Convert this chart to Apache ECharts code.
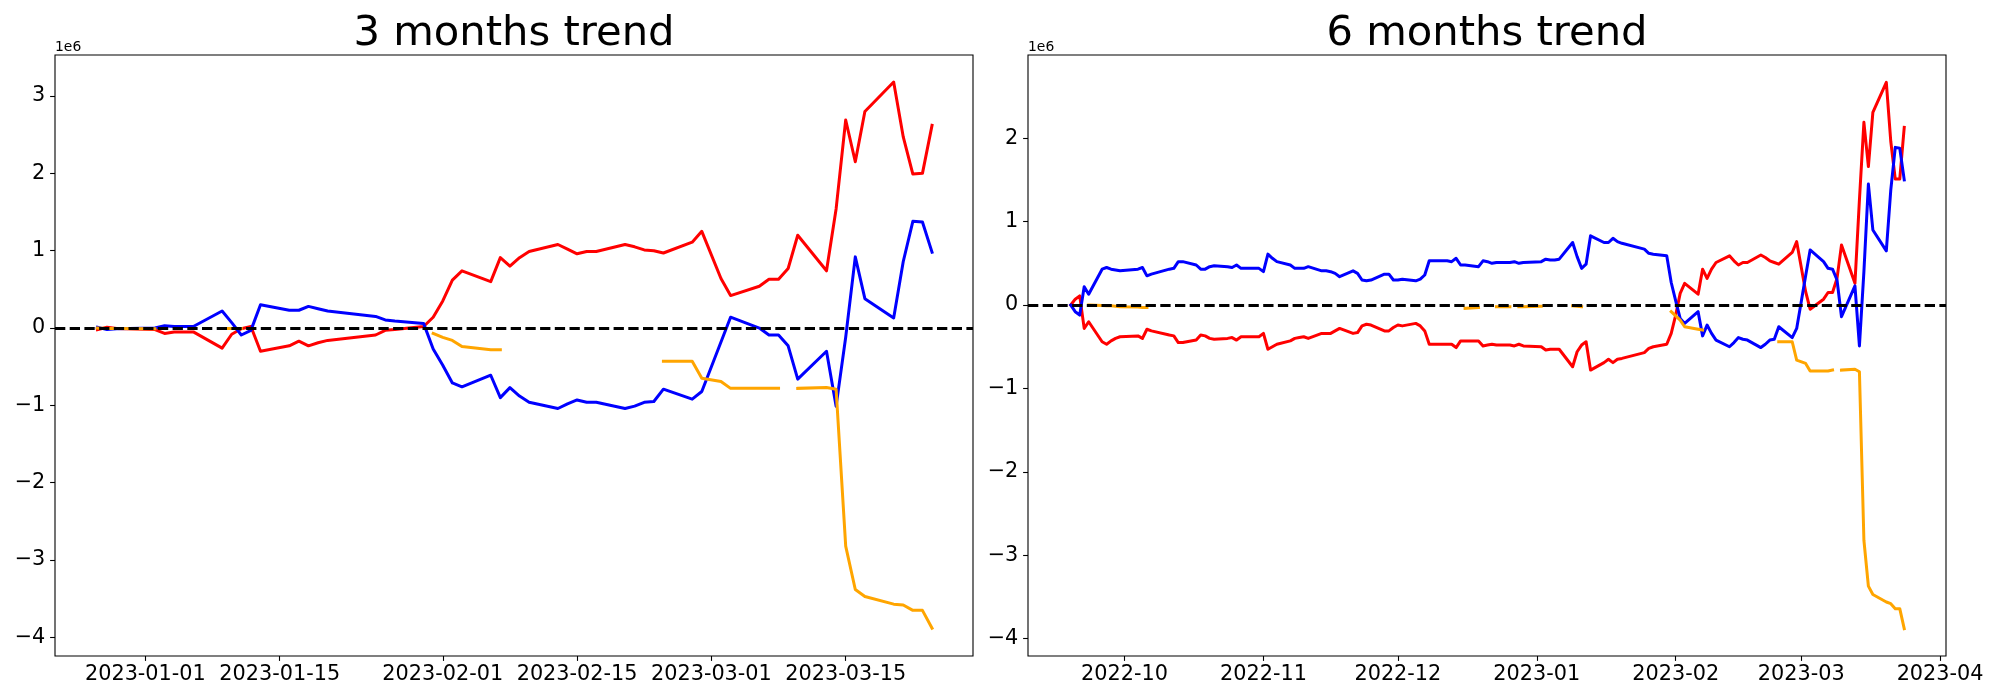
<!DOCTYPE html>
<html><head><meta charset="utf-8">
<script src="https://cdn.jsdelivr.net/npm/echarts@6/dist/echarts.min.js"></script>
<style>html,body{margin:0;padding:0;background:#fff}#c{width:2000px;height:700px}</style>
</head><body><div id="c"></div>
<script>
// ---------- 3 months data (values in units of 1e6) ----------
const dates3m = ['2022-12-27','2022-12-28','2022-12-29','2023-01-02','2023-01-03','2023-01-04','2023-01-05','2023-01-06',
  '2023-01-09','2023-01-10','2023-01-11','2023-01-12','2023-01-13','2023-01-16','2023-01-17','2023-01-18','2023-01-19','2023-01-20',
  '2023-01-25','2023-01-26','2023-01-27','2023-01-30','2023-01-31','2023-02-01','2023-02-02','2023-02-03',
  '2023-02-06','2023-02-07','2023-02-08','2023-02-09','2023-02-10','2023-02-13','2023-02-14','2023-02-15','2023-02-16','2023-02-17',
  '2023-02-20','2023-02-21','2023-02-22','2023-02-23','2023-02-24','2023-02-27','2023-02-28','2023-03-02','2023-03-03',
  '2023-03-06','2023-03-07','2023-03-08','2023-03-09','2023-03-10','2023-03-13','2023-03-14','2023-03-15','2023-03-16','2023-03-17',
  '2023-03-20','2023-03-21','2023-03-22','2023-03-23','2023-03-24'];
const red3m = [-0.02,0.01,-0.005,-0.02,-0.07,-0.05,-0.05,-0.05,
  -0.26,-0.08,-0.01,0.02,-0.30,-0.23,-0.17,-0.23,-0.19,-0.16,
  -0.09,-0.03,-0.02,0.02,0.14,0.35,0.62,0.74,
  0.60,0.91,0.80,0.91,0.99,1.08,1.02,0.96,0.99,0.99,
  1.08,1.05,1.01,1.00,0.97,1.11,1.25,0.64,0.42,
  0.54,0.63,0.63,0.77,1.20,0.74,1.54,2.69,2.15,2.80,
  3.18,2.47,1.99,2.00,2.62];
const blue3m = [0.01,-0.02,-0.01,0.0,0.03,0.02,0.02,0.02,
  0.22,0.07,-0.09,-0.03,0.30,0.23,0.23,0.28,0.25,0.22,
  0.15,0.105,0.09,0.06,-0.27,-0.48,-0.71,-0.76,
  -0.61,-0.90,-0.77,-0.88,-0.96,-1.04,-0.98,-0.93,-0.96,-0.96,
  -1.04,-1.01,-0.96,-0.95,-0.79,-0.92,-0.82,-0.18,0.14,
  0.0,-0.09,-0.09,-0.23,-0.66,-0.30,-1.01,-0.12,0.92,0.38,
  0.13,0.86,1.38,1.37,0.98];
const orange3m = [0,-0.005,-0.005,-0.01,null,null,null,null,
  -0.005,-0.005,-0.005,null,null,null,null,null,null,null,
  null,null,null,null,-0.07,-0.12,-0.16,-0.24,
  -0.28,-0.28,null,null,null,null,null,null,null,null,
  null,null,null,null,-0.43,-0.43,-0.65,-0.69,-0.78,
  -0.78,-0.78,-0.78,null,-0.78,-0.77,-0.79,-2.82,-3.38,-3.47,
  -3.57,-3.58,-3.65,-3.65,-3.88];
const ticks3m = ['2023-01-01','2023-01-15','2023-02-01','2023-02-15','2023-03-01','2023-03-15'];
const yTicks3m = [-4,-3,-2,-1,0,1,2,3];

// ---------- 6 months data (values in units of 1e6) ----------
const dates6m = ['2022-09-19','2022-09-20','2022-09-21','2022-09-22','2022-09-23','2022-09-26','2022-09-27','2022-09-28','2022-09-29','2022-09-30',
  '2022-10-04','2022-10-05','2022-10-06','2022-10-07','2022-10-11','2022-10-12','2022-10-13','2022-10-14','2022-10-17','2022-10-18','2022-10-19','2022-10-20','2022-10-21','2022-10-24','2022-10-25','2022-10-26','2022-10-27','2022-10-28','2022-10-31',
  '2022-11-01','2022-11-02','2022-11-03','2022-11-04','2022-11-07','2022-11-08','2022-11-09','2022-11-10','2022-11-11','2022-11-14','2022-11-15','2022-11-16','2022-11-17','2022-11-18','2022-11-21','2022-11-22','2022-11-23','2022-11-24','2022-11-25','2022-11-28','2022-11-29','2022-11-30',
  '2022-12-01','2022-12-02','2022-12-05','2022-12-06','2022-12-07','2022-12-08','2022-12-09','2022-12-12','2022-12-13','2022-12-14','2022-12-15','2022-12-16','2022-12-19','2022-12-20','2022-12-21','2022-12-22','2022-12-23','2022-12-26','2022-12-27','2022-12-28','2022-12-29',
  '2023-01-02','2023-01-03','2023-01-04','2023-01-05','2023-01-06','2023-01-09','2023-01-10','2023-01-11','2023-01-12','2023-01-13','2023-01-16','2023-01-17','2023-01-18','2023-01-19','2023-01-20','2023-01-25','2023-01-26','2023-01-27','2023-01-30','2023-01-31',
  '2023-02-01','2023-02-02','2023-02-03','2023-02-06','2023-02-07','2023-02-08','2023-02-09','2023-02-10','2023-02-13','2023-02-14','2023-02-15','2023-02-16','2023-02-17','2023-02-20','2023-02-21','2023-02-22','2023-02-23','2023-02-24','2023-02-27','2023-02-28',
  '2023-03-02','2023-03-03','2023-03-06','2023-03-07','2023-03-08','2023-03-09','2023-03-10','2023-03-13','2023-03-14','2023-03-15','2023-03-16','2023-03-17','2023-03-20','2023-03-21','2023-03-22','2023-03-23','2023-03-24'];
const red6m = [0,0.07,0.11,-0.28,-0.20,-0.44,-0.47,-0.43,-0.40,-0.38,
  -0.37,-0.40,-0.29,-0.31,-0.36,-0.37,-0.45,-0.45,-0.42,-0.36,-0.37,-0.40,-0.41,-0.40,-0.39,-0.42,-0.38,-0.38,-0.38,
  -0.34,-0.53,-0.50,-0.47,-0.43,-0.40,-0.39,-0.38,-0.40,-0.34,-0.34,-0.34,-0.31,-0.28,-0.34,-0.33,-0.25,-0.23,-0.24,-0.31,-0.31,-0.27,
  -0.24,-0.25,-0.22,-0.25,-0.31,-0.47,-0.47,-0.47,-0.47,-0.51,-0.43,-0.43,-0.43,-0.49,-0.48,-0.47,-0.48,-0.48,-0.49,-0.47,-0.49,
  -0.50,-0.54,-0.53,-0.53,-0.53,-0.74,-0.56,-0.48,-0.44,-0.78,-0.69,-0.65,-0.69,-0.65,-0.64,-0.57,-0.52,-0.50,-0.47,-0.34,
  -0.12,0.14,0.26,0.13,0.43,0.32,0.43,0.51,0.59,0.53,0.48,0.51,0.51,0.60,0.57,0.53,0.51,0.49,0.63,0.76,
  0.16,-0.05,0.07,0.15,0.15,0.32,0.72,0.26,1.26,2.19,1.66,2.31,2.67,1.96,1.51,1.51,2.13];
const blue6m = [0,-0.08,-0.12,0.22,0.13,0.43,0.45,0.43,0.42,0.41,
  0.43,0.45,0.35,0.37,0.43,0.44,0.52,0.52,0.48,0.43,0.43,0.46,0.47,0.46,0.45,0.48,0.44,0.44,0.44,
  0.40,0.61,0.56,0.52,0.48,0.44,0.44,0.44,0.46,0.41,0.41,0.40,0.38,0.34,0.41,0.38,0.30,0.29,0.30,0.37,0.37,0.30,
  0.30,0.31,0.29,0.31,0.36,0.53,0.53,0.53,0.52,0.56,0.48,0.48,0.46,0.53,0.52,0.50,0.51,0.51,0.52,0.50,0.51,
  0.52,0.55,0.54,0.54,0.55,0.75,0.58,0.44,0.49,0.83,0.75,0.75,0.80,0.76,0.74,0.67,0.62,0.61,0.59,0.27,
  0.05,-0.16,-0.22,-0.08,-0.37,-0.24,-0.34,-0.42,-0.50,-0.45,-0.39,-0.41,-0.42,-0.51,-0.47,-0.42,-0.41,-0.26,-0.39,-0.28,
  0.35,0.66,0.52,0.44,0.43,0.30,-0.14,0.23,-0.49,0.40,1.45,0.90,0.65,1.38,1.89,1.88,1.50];
const orange6m = [null,null,null,null,0,-0.005,-0.01,-0.01,-0.015,-0.02,
  -0.025,-0.03,-0.03,null,null,null,null,null,null,null,null,null,null,null,null,null,null,null,null,
  null,null,null,null,null,null,null,null,null,null,null,null,null,null,null,null,null,null,null,null,null,null,
  null,null,null,null,null,null,null,null,null,null,null,-0.04,-0.03,null,null,null,-0.02,-0.02,null,-0.02,-0.02,
  -0.015,null,null,null,null,-0.01,-0.015,-0.02,null,null,null,null,null,null,null,null,null,null,null,-0.08,
  -0.13,-0.18,-0.26,-0.29,-0.30,null,null,null,null,null,null,null,null,null,null,null,null,-0.44,-0.44,-0.66,
  -0.70,-0.79,-0.79,-0.79,-0.78,null,-0.78,-0.77,-0.80,-2.82,-3.37,-3.47,-3.56,-3.58,-3.64,-3.64,-3.88];
const ticks6m = ['2022-10-01','2022-11-01','2022-12-01','2023-01-01','2023-02-01','2023-03-01','2023-04-01'];
const yTicks6m = [-4,-3,-2,-1,0,1,2];

const titles = ['3 months trend','6 months trend'];
const offsetText = '1e6';

// ---------- helpers ----------
const DAY = 86400000;
function ts(s){ const p = s.split('-').map(Number); return Date.UTC(p[0], p[1]-1, p[2]); }
function pairs(dates, vals){ return dates.map((d,i)=>[ts(d), vals[i] == null ? null : vals[i]]); }
function fmtY(v){ return v < 0 ? '\u2212' + Math.abs(v) : String(v); }
function fmtDate(len){ return v => new Date(v).toISOString().slice(0, len); }

const FONT = 'DejaVu Sans';
const G = [{left:55, top:55, width:918, height:601}, {left:1028, top:55, width:918, height:601}];

function xAxisCfg(idx, ticks, min, max, len){
  const tv = ticks.map(ts);
  return {type:'value', gridIndex:idx, min:min, max:max, scale:true, position:'bottom',
    axisLine:{show:false, onZero:false}, splitLine:{show:false},
    axisTick:{show:true, customValues:tv, length:4.9, lineStyle:{color:'#000', width:1.1}},
    axisLabel:{show:true, customValues:tv, formatter:fmtDate(len), fontFamily:FONT, fontSize:20.8, color:'#000', margin:8}};
}
function yAxisCfg(idx, ticks, min, max){
  return {type:'value', gridIndex:idx, min:min, max:max, position:'left',
    axisLine:{show:false, onZero:false}, splitLine:{show:false},
    axisTick:{show:true, customValues:ticks, length:4.9, lineStyle:{color:'#000', width:1.1}},
    axisLabel:{show:true, customValues:ticks, formatter:fmtY, fontFamily:FONT, fontSize:20.8, color:'#000', margin:9.7}};
}
function lineSeries(idx, data, color, z, extra){
  return Object.assign({type:'line', xAxisIndex:idx, yAxisIndex:idx, data:data, symbol:'none', showSymbol:false,
    connectNulls:false, animation:false, silent:true, z:z,
    lineStyle:{color:color, width:3, cap:'square', join:'round'}, itemStyle:{color:color}}, extra || {});
}
const zeroLine = {silent:true, symbol:['none','none'], animation:false, label:{show:false},
  lineStyle:{color:'#000', type:[10.3,4.4], width:2.8}, emphasis:{disabled:true}, data:[{yAxis:0}]};

const jan1 = ts('2023-01-01');
const option = {
  backgroundColor:'#fff',
  animation:false,
  grid: G.map(g => Object.assign({show:true, borderColor:'#000', borderWidth:1.1, backgroundColor:'transparent', containLabel:false}, g)),
  xAxis: [
    xAxisCfg(0, ticks3m, jan1 - 9.42*DAY, jan1 + 86.27*DAY, 10),
    xAxisCfg(1, ticks6m, jan1 - 113.54*DAY, jan1 + 91.32*DAY, 7)
  ],
  yAxis: [
    yAxisCfg(0, yTicks3m, -4.24, 3.53),
    yAxisCfg(1, yTicks6m, -4.2075, 2.9975)
  ],
  series: [
    lineSeries(0, pairs(dates3m, red3m), '#ff0000', 2),
    lineSeries(0, pairs(dates3m, blue3m), '#0000ff', 3),
    lineSeries(0, pairs(dates3m, orange3m), '#ffa500', 4, {markLine: zeroLine}),
    lineSeries(1, pairs(dates6m, red6m), '#ff0000', 2),
    lineSeries(1, pairs(dates6m, blue6m), '#0000ff', 3),
    lineSeries(1, pairs(dates6m, orange6m), '#ffa500', 4, {markLine: zeroLine})
  ],
  graphic: [
    {type:'text', x:G[0].left + G[0].width/2, y:34, silent:true, style:{text:titles[0], font:'41.7px "DejaVu Sans"', fill:'#000', textAlign:'center', textVerticalAlign:'middle'}},
    {type:'text', x:G[1].left + G[1].width/2, y:34, silent:true, style:{text:titles[1], font:'41.7px "DejaVu Sans"', fill:'#000', textAlign:'center', textVerticalAlign:'middle'}},
    {type:'text', x:G[0].left, y:54.5, silent:true, style:{text:offsetText, font:'13.9px "DejaVu Sans"', fill:'#000', textAlign:'left', textVerticalAlign:'bottom'}},
    {type:'text', x:G[1].left, y:54.5, silent:true, style:{text:offsetText, font:'13.9px "DejaVu Sans"', fill:'#000', textAlign:'left', textVerticalAlign:'bottom'}}
  ]
};
const chart = echarts.init(document.getElementById('c'), null, {renderer:'canvas', width:2000, height:700});
chart.setOption(option);
</script>
</body></html>
